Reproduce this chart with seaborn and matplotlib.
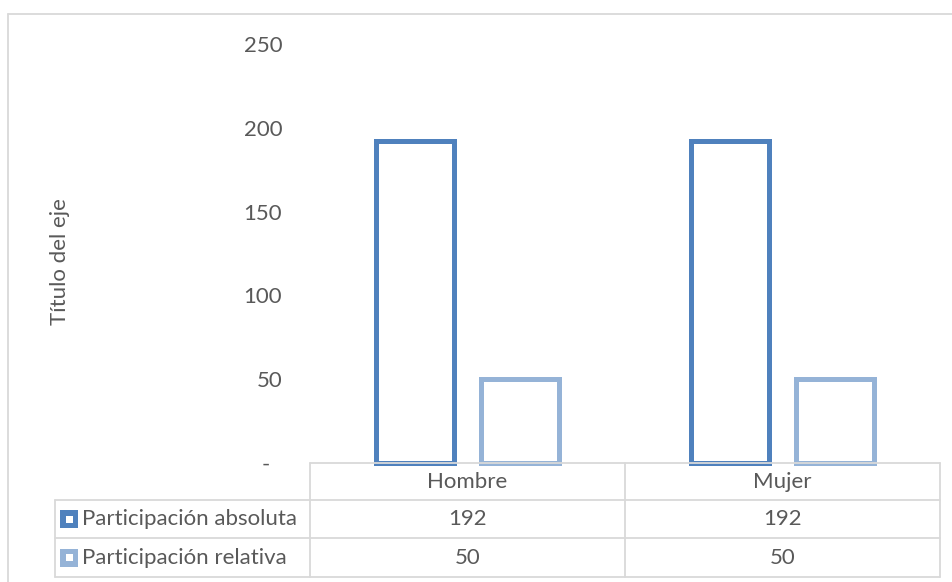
import matplotlib
matplotlib.use("Agg")
import matplotlib.pyplot as plt
from matplotlib.lines import Line2D
from matplotlib.patches import Rectangle
import seaborn as sns
import pandas as pd

# Data
categorias = ["Hombre", "Mujer"]
series = ["Participación absoluta", "Participación relativa"]
absoluta = [192, 192]
relativa = [50, 50]
yticks = [0, 50, 100, 150, 200, 250]
ytick_labels = ["-  ", "50", "100", "150", "200", "250"]
colores = ["#4F81BD", "#95B3D7"]
eje_y = "Título del eje"

df = pd.DataFrame({
    "categoria": categorias * 2,
    "serie": [series[0]] * len(categorias) + [series[1]] * len(categorias),
    "valor": absoluta + relativa,
})

sns.set_theme(style="white")
plt.rcParams["font.family"] = ["Lato", "DejaVu Sans"]

TXT = "#595959"
GRID = "#D9D9D9"
FS = 16

W, H = 953, 582
fig = plt.figure(figsize=(W / 100, H / 100), dpi=100)


def fx(px):
    return px / W


def fy(py):
    return 1 - py / H


# Plot area
x0, x1, ytop, ybot = 310, 940, 44, 463
ax = fig.add_axes([fx(x0), fy(ybot), fx(x1) - fx(x0), fy(ytop) - fy(ybot)])
sns.barplot(data=df, x="categoria", y="valor", hue="serie",
            order=categorias, hue_order=series, palette=colores,
            fill=False, linewidth=3.6, width=0.67, gap=0.26,
            legend=False, ax=ax)
for p in ax.patches:
    p.set_joinstyle("miter")
    p.set_clip_on(False)

ax.set_xlim(-0.5, len(categorias) - 0.5)
ax.set_ylim(0, 250)
ax.set_xticks([])
ax.set_xlabel("")
ax.set_ylabel("")
ax.set_yticks(yticks, ytick_labels)
ax.tick_params(axis="y", length=0, pad=20, labelsize=FS, labelcolor=TXT)
for s in ax.spines.values():
    s.set_visible(False)

# Axis title
fig.text(fx(60), fy(262), eje_y, rotation=90, ha="center", va="center",
         color=TXT, fontsize=FS)


def hline(y, xa, xb):
    fig.add_artist(Line2D([fx(xa), fx(xb)], [fy(y), fy(y)],
                          transform=fig.transFigure, color=GRID, lw=1.3))


def vline(x, ya, yb):
    fig.add_artist(Line2D([fx(x), fx(x)], [fy(ya), fy(yb)],
                          transform=fig.transFigure, color=GRID, lw=1.3))


# Chart border
hline(14, 8, 953)
vline(8, 14, 582)

# Data table
col_edges = [310, 625, 940]
row_edges = [463, 500, 538, 577]
tbl_left = 55
hline(row_edges[0], col_edges[0], col_edges[-1])
for y in row_edges[1:]:
    hline(y, tbl_left, col_edges[-1])
for x in col_edges:
    vline(x, row_edges[0], row_edges[-1])
vline(tbl_left, row_edges[1], row_edges[-1])

centers = [(col_edges[i] + col_edges[i + 1]) / 2 for i in range(len(categorias))]
row_mid = [(row_edges[i] + row_edges[i + 1]) / 2 for i in range(3)]

for c, cat in zip(centers, categorias):
    fig.text(fx(c), fy(row_mid[0]), cat, ha="center", va="center",
             color=TXT, fontsize=FS)

for r, (nombre, vals, col) in enumerate(zip(series, [absoluta, relativa], colores), start=1):
    ym = row_mid[r]
    fig.add_artist(Rectangle((fx(60), fy(ym + 9)), fx(18), 18 / H,
                             transform=fig.transFigure, facecolor=col,
                             edgecolor="none"))
    fig.add_artist(Rectangle((fx(66), fy(ym + 3.5)), fx(7), 7 / H,
                             transform=fig.transFigure, facecolor="white",
                             edgecolor="none"))
    fig.text(fx(82), fy(ym), nombre, ha="left", va="center",
             color=TXT, fontsize=FS)
    for c, v in zip(centers, vals):
        fig.text(fx(c), fy(ym), f"{v}", ha="center", va="center",
                 color=TXT, fontsize=FS)

fig.savefig("out.png", dpi=100)
